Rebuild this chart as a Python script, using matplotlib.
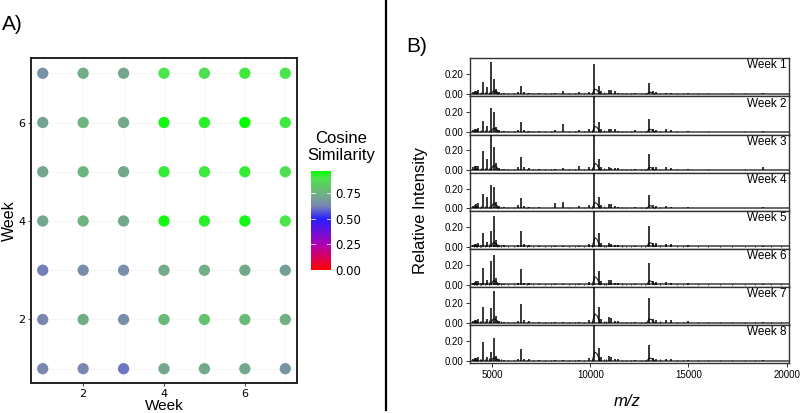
import numpy as np
import matplotlib
matplotlib.use("Agg")
import matplotlib.pyplot as plt
from matplotlib.colors import LinearSegmentedColormap, Normalize
from matplotlib.lines import Line2D

# ---------------- Data: panel A ----------------
weeks_x = [1, 2, 3, 4, 5, 6, 7]
weeks_y = [1, 2, 3, 4, 5, 6, 7]
# cosine similarity, rows = y week 1..7, columns = x week 1..7
sim_row1 = [0.63, 0.63, 0.61, 0.72, 0.73, 0.72, 0.67]
sim_row2 = [0.63, 0.74, 0.65, 0.78, 0.80, 0.78, 0.75]
sim_row3 = [0.62, 0.65, 0.65, 0.73, 0.74, 0.73, 0.70]
sim_row4 = [0.72, 0.76, 0.73, 0.95, 0.93, 0.95, 0.90]
sim_row5 = [0.72, 0.76, 0.73, 0.92, 0.91, 0.92, 0.88]
sim_row6 = [0.71, 0.76, 0.73, 0.95, 0.93, 0.97, 0.91]
sim_row7 = [0.66, 0.74, 0.72, 0.90, 0.88, 0.91, 0.90]
sim_rows = [sim_row1, sim_row2, sim_row3, sim_row4, sim_row5, sim_row6, sim_row7]
cbar_ticks = [0.00, 0.25, 0.50, 0.75]
cbar_max = 0.97

# ---------------- Data: panel B ----------------
week_labels = ["Week 1", "Week 2", "Week 3", "Week 4",
               "Week 5", "Week 6", "Week 7", "Week 8"]
peak_mz = [4020, 4120, 4200, 4300, 4510, 4750, 4950, 5090, 5180, 5350, 5600,
           6300, 6460, 6600, 6900, 7400, 8200, 8590, 9400, 9950, 10190, 10420,
           10550, 10950, 11050, 11250, 11400, 12300, 13000, 13200, 13350, 13850,
           14100, 15000, 18800]
peak_h = {
    "Week 1": [.02, .03, .03, .04, .12, .07, .32, .15, .05, .02, .01, .02, .08, .02, .015, .01, .01, .03, .02, .02, .30, .08, .03, .04, .04, .03, .01, .01, .11, .03, .02, .01, .01, .01, .01],
    "Week 2": [.02, .03, .03, .04, .11, .06, .24, .20, .05, .02, .01, .02, .10, .02, .015, .01, .02, .08, .02, .03, .36, .10, .03, .03, .03, .03, .01, .02, .13, .03, .02, .03, .02, .01, .01],
    "Week 3": [.03, .04, .04, .04, .19, .11, .36, .23, .07, .02, .015, .03, .13, .03, .02, .01, .01, .02, .04, .03, .36, .11, .03, .03, .02, .02, .02, .01, .16, .03, .03, .03, .02, .015, .03],
    "Week 4": [.02, .03, .04, .05, .15, .12, .24, .22, .06, .02, .01, .03, .10, .02, .015, .01, .05, .06, .02, .03, .36, .11, .03, .04, .04, .02, .01, .01, .14, .03, .02, .02, .01, .01, .01],
    "Week 5": [.02, .03, .03, .04, .14, .05, .16, .31, .07, .02, .015, .02, .16, .03, .02, .01, .01, .01, .01, .03, .36, .14, .04, .04, .03, .02, .02, .01, .21, .04, .04, .03, .03, .015, .005],
    "Week 6": [.02, .03, .04, .04, .17, .05, .24, .30, .07, .02, .01, .02, .16, .02, .015, .01, .01, .01, .01, .03, .36, .14, .04, .05, .05, .02, .02, .01, .22, .04, .03, .03, .02, .015, .005],
    "Week 7": [.02, .03, .03, .04, .16, .04, .15, .32, .07, .02, .01, .02, .19, .03, .015, .01, .01, .01, .01, .03, .36, .16, .04, .06, .05, .02, .02, .01, .25, .04, .03, .03, .03, .015, .005],
    "Week 8": [.02, .03, .03, .04, .19, .04, .09, .23, .05, .02, .01, .02, .12, .02, .015, .01, .01, .01, .01, .03, .36, .13, .04, .05, .04, .02, .02, .01, .16, .03, .02, .02, .02, .01, .005],
}
# small peaks seen in every week
minor_mz = [4060, 4160, 4250, 4380, 4440, 4620, 4850, 5250, 5450, 5800, 6100,
            6750, 7100, 7700, 8000, 8900, 9200, 9700, 10080, 10700, 10820,
            11600, 11800, 12050, 12600, 12800, 13550, 14400, 14700, 15500,
            16000, 16600, 17200, 17900, 18400, 19200, 19700]
minor_h = [0.015, 0.02, 0.02, 0.015, 0.02, 0.02, 0.025, 0.03, 0.015, 0.01, 0.01,
           0.012, 0.01, 0.008, 0.008, 0.01, 0.008, 0.01, 0.02, 0.02, 0.015,
           0.012, 0.01, 0.008, 0.01, 0.01, 0.015, 0.008, 0.006, 0.006,
           0.008, 0.005, 0.006, 0.008, 0.005, 0.004, 0.004]
broad_mz = [10280, 5120, 13060]
broad_h = {
    "Week 1": [.05, .03, .02], "Week 2": [.06, .04, .03], "Week 3": [.07, .05, .03],
    "Week 4": [.06, .05, .03], "Week 5": [.09, .04, .04], "Week 6": [.08, .04, .04],
    "Week 7": [.09, .04, .04], "Week 8": [.09, .03, .03],
}
x_ticks_b = [5000, 10000, 15000, 20000]

# ---------------- Figure ----------------
W, H = 800, 413
fig = plt.figure(figsize=(W / 100, H / 100), dpi=100)
SANS = ["Liberation Sans", "DejaVu Sans"]


def fx(px):
    return px / W


def fy(py):
    return 1 - py / H


# colormap
vals = [0.0, 0.25, 0.50, 0.63, 0.75, 0.90, cbar_max]
cols = [(255, 0, 0), (175, 0, 180), (40, 30, 255), (122, 135, 178),
        (112, 176, 130), (75, 228, 75), (0, 255, 0)]
cmap = LinearSegmentedColormap.from_list(
    "cos", [(v / cbar_max, tuple(c / 255 for c in col)) for v, col in zip(vals, cols)])
norm = Normalize(0, cbar_max)

# ---- Panel A ----
axA = fig.add_axes([fx(31), fy(383), fx(297) - fx(31), fy(58) - fy(383)])
xs, ys, cs = [], [], []
for yi, row in zip(weeks_y, sim_rows):
    for xi, v in zip(weeks_x, row):
        xs.append(xi); ys.append(yi); cs.append(v)
axA.scatter(xs, ys, c=cs, cmap=cmap, norm=norm, s=66, linewidths=0, zorder=3)
axA.set_xlim(0.71, 7.29)
axA.set_ylim(0.71, 7.31)
axA.set_xticks([2, 4, 6])
axA.set_yticks([2, 4, 6])
for v in weeks_x:
    axA.axvline(v, color="#f4f4f4", lw=0.6, zorder=0)
    axA.axhline(v, color="#f4f4f4", lw=0.6, zorder=0)
for s in axA.spines.values():
    s.set_color("#222222")
    s.set_linewidth(1.4)
axA.tick_params(length=2.5, width=0.8, color="#555555", labelsize=8, pad=1.5)
fig.text(fx(164), fy(405.5), "Week", ha="center", va="center", fontsize=11, family=SANS)
fig.text(fx(9), fy(221), "Week", ha="center", va="center", rotation=90,
         fontsize=11.5, family=SANS)

# colorbar
cax = fig.add_axes([fx(311), fy(270), fx(331) - fx(311), fy(171) - fy(270)])
sm = plt.cm.ScalarMappable(cmap=cmap, norm=norm)
cb = fig.colorbar(sm, cax=cax, ticks=cbar_ticks)
cb.outline.set_visible(False)
cb.ax.set_yticklabels(["%.2f" % t for t in cbar_ticks])
cb.ax.tick_params(length=0, labelsize=8.5, pad=3)
for t in cbar_ticks:
    cax.plot([0, 0.2], [t, t], color="white", lw=0.7, alpha=0.8, transform=cax.get_yaxis_transform())
    cax.plot([0.8, 1.0], [t, t], color="white", lw=0.7, alpha=0.8, transform=cax.get_yaxis_transform())
fig.text(fx(341), fy(147), "Cosine\nSimilarity", ha="center", va="center",
         fontsize=12, family=SANS, linespacing=1.1)

fig.text(fx(2), fy(25), "A)", ha="left", va="center", fontsize=15, family=SANS)
fig.text(fx(406), fy(47), "B)", ha="left", va="center", fontsize=15, family=SANS)

# divider line
fig.add_artist(Line2D([fx(386), fx(386)], [fy(0), fy(410)], color="black", lw=1.6))

# ---- Panel B ----
top, bottom = 58.3, 363.3
n = len(week_labels)
sh = (bottom - top) / n
xlim_b = (3870, 20120)
for i, wk in enumerate(week_labels):
    y0 = top + i * sh
    ax = fig.add_axes([fx(470), fy(y0 + sh), fx(789) - fx(470), fy(y0) - fy(y0 + sh)])
    ax.plot(xlim_b, [0.002, 0.002], color="#666666", lw=1.4, zorder=1)
    for p, h in zip(broad_mz, broad_h[wk]):
        ax.plot([p - 180, p - 60, p + 60, p + 220], [0, h, h * 0.8, 0],
                color="#222222", lw=0.8, zorder=2)
    ax.vlines(minor_mz, 0, minor_h, color="#222222", lw=0.8, zorder=2)
    ax.vlines(peak_mz, 0, peak_h[wk], color="black", lw=1.1, zorder=3)
    ax.set_xlim(*xlim_b)
    ax.set_ylim(-0.024, 0.36)
    ax.set_yticks([0.0, 0.2])
    ax.set_yticklabels(["0.00", "0.20"], family=SANS)
    ax.set_xticks(x_ticks_b)
    if i == n - 1:
        ax.set_xticklabels([str(v) for v in x_ticks_b], family=SANS)
        ax.tick_params(axis="x", length=3, width=0.7, labelsize=7, pad=2, color="#333333")
    else:
        ax.tick_params(axis="x", length=0, labelbottom=False)
    ax.tick_params(axis="y", length=3, width=0.7, labelsize=7, pad=2, color="#333333")
    for s in ax.spines.values():
        s.set_color("#333333")
        s.set_linewidth(1.0)
    ax.text(0.993, 0.97, wk, transform=ax.transAxes, ha="right", va="top",
            fontsize=8.5, family=SANS, zorder=5)

fig.text(fx(421), fy(210.5), "Relative Intensity", rotation=90, ha="center",
         va="center", fontsize=12, family=SANS)
fig.text(fx(627), fy(401), "m/z", ha="center", va="center", fontsize=12,
         family=SANS, style="italic")

fig.savefig("out.png", dpi=100)
